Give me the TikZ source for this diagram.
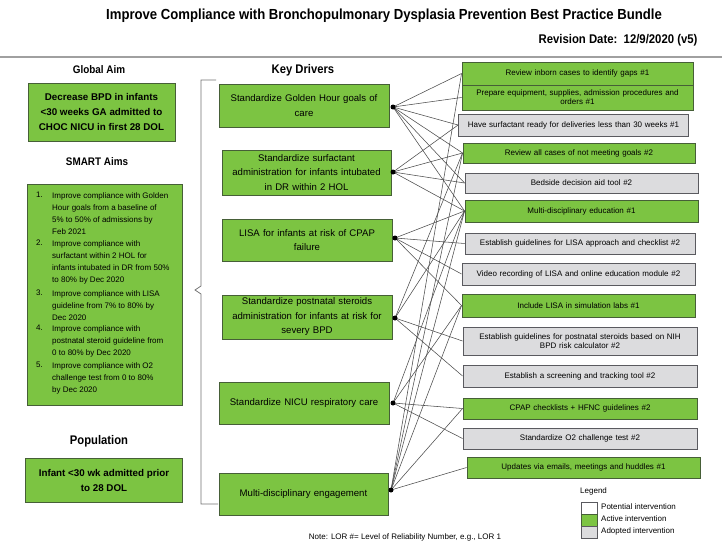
\documentclass[tikz,border=0pt]{standalone}
\usepackage{fontspec}
\setmainfont{Liberation Sans}
\newfontfamily\narrowf[FakeStretch=0.9]{Liberation Sans}
\usetikzlibrary{arrows.meta}
\definecolor{gfill}{RGB}{124,196,66}
\definecolor{gborder}{RGB}{70,95,55}
\definecolor{grayfill}{RGB}{220,220,222}
\definecolor{grayborder}{RGB}{90,90,95}
\definecolor{sepgray}{RGB}{160,160,160}
\tikzset{
  gbox/.style={draw=gborder, line width=0.9pt, fill=gfill, inner sep=1pt},
  ybox/.style={draw=grayborder, line width=0.9pt, fill=grayfill, inner sep=1pt},
  wbox/.style={draw=grayborder, line width=0.7pt, fill=white, inner sep=0pt},
  drv/.style={align=center, text width=164pt, font=\fontsize{9.6}{14.5}\selectfont},
  ib/.style={align=center, text width=228pt, font=\fontsize{8}{9}\selectfont},
  hdr/.style={font=\narrowf\bfseries\fontsize{11}{12}\selectfont, inner sep=0pt},
  aimtxt/.style={align=center, font=\bfseries\fontsize{9.8}{15}\selectfont},
  smart/.style={anchor=north west, inner sep=0pt, align=left, font=\fontsize{8}{12}\selectfont},
  dotn/.style={circle, fill=black, inner sep=0pt, minimum size=5pt},
  conn/.style={draw=black!70, line width=0.55pt},
  brace/.style={draw=black!55, line width=0.8pt},
  small/.style={font=\fontsize{8}{9}\selectfont, inner sep=0pt},
}
\begin{document}
\begin{tikzpicture}[x=1pt,y=-1pt]
\useasboundingbox (0,0) rectangle (722,546);
\fill[white] (0,0) rectangle (722,546);

% title
\node[font=\narrowf\bfseries\fontsize{14.6}{16}\selectfont] (title) at (384,16)
  {Improve Compliance with Bronchopulmonary Dysplasia Prevention Best Practice Bundle};
\node[anchor=east, font=\narrowf\bfseries\fontsize{12.6}{14}\selectfont] (rev) at (701,40)
  {Revision Date:\ \ 12/9/2020 (v5)};
\draw[sepgray, line width=2.5pt] (0,57) -- (722,57);

% left column
\node[hdr] (gah) at (99,70) {Global Aim};
\node[gbox, minimum width=147pt, minimum height=58pt, aimtxt] (ga) at (101.5,112)
  {Decrease BPD in infants\\ \textless30 weeks GA admitted to\\ CHOC NICU in first 28 DOL};
\node[hdr] (smh) at (97,162) {SMART Aims};
\node[gbox, minimum width=155pt, minimum height=221pt] (sm) at (104.5,295) {};
\node[smart] (n1) at (36,192) {1.};
\node[smart] (t1) at (52,192) {Improve compliance with Golden\\ Hour goals from a baseline of\\ 5\% to 50\% of admissions by\\ Feb 2021};
\node[smart] (n2) at (36,240) {2.};
\node[smart] (t2) at (52,240) {Improve compliance with\\ surfactant within 2 HOL for\\ infants intubated in DR from 50\%\\ to 80\% by Dec 2020};
\node[smart] (n3) at (36,290) {3.};
\node[smart] (t3) at (52,290) {Improve compliance with LISA\\ guideline from 7\% to 80\% by\\ Dec 2020};
\node[smart] (n4) at (36,325) {4.};
\node[smart] (t4) at (52,325) {Improve compliance with\\ postnatal steroid guideline from\\ 0 to 80\% by Dec 2020};
\node[smart] (n5) at (36,362) {5.};
\node[smart] (t5) at (52,362) {Improve compliance with O2\\ challenge test from 0 to 80\%\\ by Dec 2020};
\node[hdr, font=\narrowf\bfseries\fontsize{12.5}{14}\selectfont] (poh) at (99,441) {Population};
\node[gbox, minimum width=157pt, minimum height=44pt, aimtxt] (po) at (104,480)
  {Infant \textless30 wk admitted prior\\ to 28 DOL};

% bracket
\coordinate (bt) at (216,80);
\coordinate (bb) at (218,504);
\draw[brace] (bt) -- (201,80) -- (201,286) -- (195,290) -- (201,294) -- (201,504) -- (bb);

% key drivers
\node[hdr, font=\narrowf\bfseries\fontsize{12.5}{14}\selectfont] (kdh) at (303,70) {Key Drivers};
\node[gbox, drv, minimum width=170pt, minimum height=43pt] (d1) at (304,105.5)
  {Standardize Golden Hour goals of\\ care};
\node[gbox, drv, minimum width=169pt, minimum height=45pt] (d2) at (306.5,172.5)
  {Standardize surfactant\\ administration for infants intubated\\ in DR within 2 HOL};
\node[gbox, drv, minimum width=170pt, minimum height=42pt] (d3) at (307,240)
  {LISA for infants at risk of CPAP\\ failure};
\node[gbox, drv, minimum width=170pt, minimum height=44pt] (d4) at (307,317)
  {Standardize postnatal steroids\\ administration for infants at risk for\\ severy BPD};
\node[gbox, drv, minimum width=170pt, minimum height=42pt] (d5) at (304,403)
  {Standardize NICU respiratory care};
\node[gbox, drv, minimum width=169pt, minimum height=42pt] (d6) at (303.5,494)
  {Multi-disciplinary engagement};

% interventions
\node[gbox, ib, minimum width=231pt, minimum height=23pt] (i1) at (577.5,73.5)
  {Review inborn cases to identify gaps \#1};
\node[gbox, ib, minimum width=231pt, minimum height=25pt] (i2) at (577.5,97.5)
  {Prepare equipment, supplies, admission procedures and\\ orders \#1};
\node[ybox, ib, minimum width=223pt, minimum height=22pt] (i3) at (573.5,125)
  {Have surfactant ready for deliveries less than 30 weeks \#1};
\node[gbox, ib, minimum width=232pt, minimum height=20pt] (i4) at (579,153)
  {Review all cases of not meeting goals \#2};
\node[ybox, ib, minimum width=233pt, minimum height=20pt] (i5) at (581.5,183)
  {Bedside decision aid tool \#2};
\node[gbox, ib, minimum width=233pt, minimum height=22pt] (i6) at (581.5,211)
  {Multi-disciplinary education \#1};
\node[ybox, ib, minimum width=230pt, minimum height=21pt] (i7) at (580,243.5)
  {Establish guidelines for LISA approach and checklist \#2};
\node[ybox, ib, minimum width=233pt, minimum height=22pt] (i8) at (578.5,274)
  {Video recording of LISA and online education module \#2};
\node[gbox, ib, minimum width=233pt, minimum height=23pt] (i9) at (578.5,305.5)
  {Include LISA in simulation labs \#1};
\node[ybox, ib, minimum width=234pt, minimum height=28pt] (i10) at (580,341)
  {Establish guidelines for postnatal steroids based on NIH\\ BPD risk calculator \#2};
\node[ybox, ib, minimum width=234pt, minimum height=22pt] (i11) at (580,376)
  {Establish a screening and tracking tool \#2};
\node[gbox, ib, minimum width=234pt, minimum height=21pt] (i12) at (580,408.5)
  {CPAP checklists + HFNC guidelines \#2};
\node[ybox, ib, minimum width=234pt, minimum height=21pt] (i13) at (580,438.5)
  {Standardize O2 challenge test \#2};
\node[gbox, ib, minimum width=233pt, minimum height=21pt] (i14) at (583.5,467.5)
  {Updates via emails, meetings and huddles \#1};

% connector end points at drivers
\coordinate (p1) at (393,107);
\coordinate (p2) at (393,172);
\coordinate (p3) at (395,238);
\coordinate (p4) at (395,318);
\coordinate (p5) at (393,403);
\coordinate (p6) at (391,490);

\foreach \a/\b in {p1/i1,p1/i2,p1/i3,p1/i4,p1/i5,p1/i6,
                   p2/i3,p2/i4,p2/i5,p2/i6,
                   p3/i6,p3/i7,p3/i8,p3/i9,
                   p4/i4,p4/i6,p4/i10,p4/i11,
                   p5/i6,p5/i9,p5/i12,p5/i13,
                   p6/i1,p6/i4,p6/i6,p6/i9,p6/i12,p6/i14}
  \draw[conn] (\a) -- (\b.west);

\node[dotn] (q1) at (p1) {};
\node[dotn] (q2) at (p2) {};
\node[dotn] (q3) at (p3) {};
\node[dotn] (q4) at (p4) {};
\node[dotn] (q5) at (p5) {};
\node[dotn] (q6) at (p6) {};

% legend
\node[anchor=west, small] (lgh) at (580,491) {Legend};
\node[wbox, minimum width=16pt, minimum height=12pt] (lw) at (589,508) {};
\node[gbox, line width=0.7pt, inner sep=0pt, minimum width=16pt, minimum height=12pt] (lg) at (589,520) {};
\node[ybox, line width=0.7pt, inner sep=0pt, minimum width=16pt, minimum height=12pt] (ly) at (589,532) {};
\node[anchor=west, small] (lwt) at (601,507) {Potential intervention};
\node[anchor=west, small] (lgt) at (601,519) {Active intervention};
\node[anchor=west, small] (lyt) at (601,531) {Adopted intervention};

% note
\node[small] (note) at (405,537) {Note: LOR \#= Level of Reliability Number, e.g., LOR 1};
\end{tikzpicture}
\end{document}
